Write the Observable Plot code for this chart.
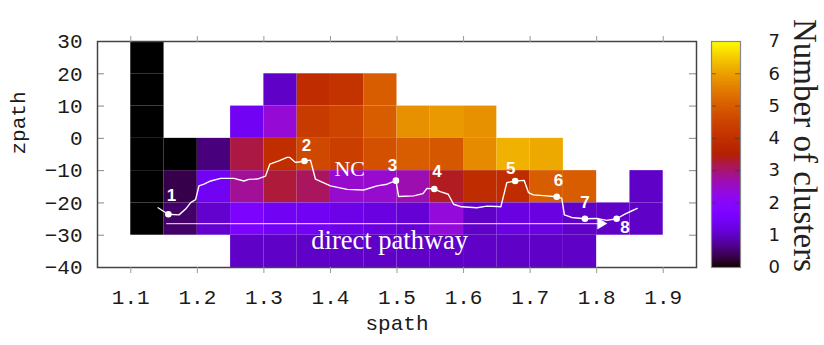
<!DOCTYPE html>
<html><head><meta charset="utf-8">
<script src="https://cdn.jsdelivr.net/npm/d3@7"></script>
<script src="https://cdn.jsdelivr.net/npm/@observablehq/plot@0.6"></script>
<style>
html,body{margin:0;padding:0;background:#fff;}
#chart{position:relative;width:824px;height:345px;overflow:hidden;}
#chart svg{position:absolute;top:0;max-width:none !important;}
</style></head><body><div id="chart"></div>
<script>
// ---- data ----
const spathBins = [1.10,1.15,1.20,1.25,1.30,1.35,1.40,1.45,1.50,1.55,1.60,1.65,1.70,1.75,1.80,1.85];
const zpathBins = [20,10,0,-10,-20,-30,-40]; // lower edge of each row
const row20 = [0,null,null,null,null,null,null,null,null,null,null,null,null,null,null,null];
const row10 = [0,null,null,null,1.0,3.9,4.1,5.0,null,null,null,null,null,null,null,null];
const row0  = [0,null,null,1.4,2.4,4.3,4.5,5.0,5.8,5.9,5.8,null,null,null,null,null];
const rowM10 = [0,0,0.57,3.2,3.95,4.6,4.4,4.75,5.0,4.9,5.7,6.2,6.1,null,null,null];
const rowM20 = [0,0.33,1.4,2.8,3.25,3.08,2.45,2.45,2.65,3.35,3.9,3.9,5.0,5.0,null,1.0];
const rowM30 = [0,0.47,1.05,1.65,1.4,1.4,1.27,1.2,1.1,2.35,1.0,1.2,1.2,1.0,1.0,1.0];
const rowM40 = [null,null,null,1.0,1.0,1.0,1.0,1.0,1.0,1.0,1.0,1.0,1.0,1.0,null,null];
const rows = [row20,row10,row0,rowM10,rowM20,rowM30,rowM40];

const pathSpath = [1.141,1.1485,1.1565,1.1724,1.1824,1.19,1.1974,1.2024,1.21,1.22,1.235,1.255,1.27,1.2774,1.29,1.3024,1.3089,1.3224,1.3349,1.339,1.347,1.35,1.361,1.37,1.3775,1.40,1.425,1.45,1.47,1.485,1.4984,1.5024,1.525,1.539,1.545,1.556,1.565,1.577,1.585,1.597,1.62,1.635,1.65,1.656,1.665,1.6775,1.691,1.6975,1.705,1.725,1.74,1.7475,1.7515,1.7624,1.7824,1.80,1.815,1.83,1.8424,1.8524,1.861];
const pathZpath = [-21.5,-22.5,-23.5,-23.7,-21.9,-19.9,-19.0,-14.7,-14.2,-13.2,-12.4,-12.4,-13.2,-12.7,-12.6,-11.7,-8.0,-7.0,-5.9,-5.9,-7.4,-7.4,-7.0,-6.75,-12.65,-14.7,-15.8,-16.0,-14.7,-14.2,-13.1,-18.0,-17.8,-17.1,-15.5,-15.7,-16.5,-17.3,-20.4,-21.2,-21.5,-21.0,-21.1,-21.2,-13.7,-13.2,-13.0,-16.8,-17.5,-17.8,-18.1,-18.5,-23.7,-24.5,-24.9,-24.8,-25.4,-24.9,-23.5,-22.5,-21.7];

const stageNames = ["1","2","3","4","5","6","7","8"];
const stageSpath = [1.1565,1.361,1.4984,1.556,1.6775,1.74,1.7824,1.83];
const stageZpath = [-23.5,-7.0,-13.1,-15.7,-13.2,-18.1,-24.9,-24.9];
const labelSpath = [1.161,1.364,1.4934,1.56,1.671,1.7425,1.7824,1.8424];
const labelZpath = [-17.8,-2.3,-8.3,-10.2,-9.3,-13.2,-19.9,-27.7];

const directSpath = [1.154,1.809];
const directZpath = [-26.4,-26.4];
const arrowSpath = [1.806];
const arrowZpath = [-26.4];
const directLabel = {text: "direct pathway", spath: 1.489, zpath: -34.4};
const ncLabel = {text: "NC", spath: 1.429, zpath: -9.6};

const xTicks = [1.1,1.2,1.3,1.4,1.5,1.6,1.7,1.8,1.9];
const yTicks = [-40,-30,-20,-10,0,10,20,30];
const yInnerTicks = [-30,-20,-10,0,10,20];
const cbTicks = [0,1,2,3,4,5,6,7];
const cbInnerTicks = [1,2,3,4,5,6];
const cbTitle = "Number of clusters";

// ---- build ----
const dx = spathBins[1]-spathBins[0];
const dz = zpathBins[0]-zpathBins[1];
const cells = [];
rows.forEach((r,i) => r.forEach((v,j) => { if (v != null) cells.push({x1: spathBins[j], x2: spathBins[j]+dx, y1: zpathBins[i], y2: zpathBins[i]+dz, v}); }));
const path = pathSpath.map((s,i) => ({s, z: pathZpath[i]}));
const stages = stageNames.map((n,i) => ({n, s: stageSpath[i], z: stageZpath[i], ls: labelSpath[i], lz: labelZpath[i]}));
const direct = directSpath.map((s,i) => ({s, z: directZpath[i]}));

const gnuplot = t => {
  const r = Math.sqrt(Math.max(0,t)), g = t*t*t, b = Math.max(0, Math.sin(2*Math.PI*t));
  return d3.rgb(255*r, 255*g, 255*b).formatHex();
};
const colorScale = {type: "linear", domain: [0,7], interpolate: gnuplot};

const W = 824, H = 345, mL = 97, mR = 128, mT = 41, mB = 78;
const frameW = W - mL - mR;
const mono = "Liberation Mono, DejaVu Sans Mono, monospace";
const serif = "Liberation Serif, DejaVu Serif, serif";
const sansB = "Liberation Sans, Arial, sans-serif";

const main = Plot.plot({
  width: W, height: H, marginLeft: mL, marginRight: mR, marginTop: mT, marginBottom: mB,
  x: {domain: [1.05,1.95]},
  y: {domain: [-40,30]},
  color: colorScale,
  style: {fontFamily: mono, fontSize: "21px", color: "#1a1a1a", background: "transparent"},
  marks: [
    Plot.rect(cells, {x1: "x1", x2: "x2", y1: "y1", y2: "y2", fill: "v"}),
    Plot.line(direct, {x: "s", y: "z", stroke: "white", strokeOpacity: 0.75, strokeWidth: 1.3}),
    Plot.dot(arrowSpath.map((s,i)=>({s, z: arrowZpath[i]})), {x: "s", y: "z", symbol: "triangle", rotate: 90, r: 4.3, fill: "white", stroke: "none"}),
    Plot.line(path, {x: "s", y: "z", stroke: "white", strokeWidth: 1.4, curve: "linear"}),
    Plot.dot(stages, {x: "s", y: "z", r: 3.3, fill: "white", stroke: "none"}),
    Plot.text(stages, {x: "ls", y: "lz", text: "n", fill: "white", fontFamily: sansB, fontWeight: "bold", fontSize: 17}),
    Plot.text([ncLabel], {x: "spath", y: "zpath", text: "text", fill: "white", fontFamily: serif, fontSize: 22}),
    Plot.text([directLabel], {x: "spath", y: "zpath", text: "text", fill: "white", fontFamily: serif, fontSize: 26.5, lineAnchor: "bottom"}),
    Plot.tickY(yInnerTicks, {y: d => d, insetRight: frameW - 7, stroke: "#888", strokeWidth: 1}),
    Plot.tickY(yInnerTicks, {y: d => d, insetLeft: frameW - 7, stroke: "#888", strokeWidth: 1}),
    Plot.frame({stroke: "#444", strokeWidth: 1.5}),
    Plot.axisX(xTicks, {anchor: "bottom", tickSize: 6, tickPadding: 16, stroke: "#999", tickFormat: d => d.toFixed(1), label: null}),
    Plot.axisX(xTicks, {anchor: "top", tickSize: 6, stroke: "#999", tickFormat: () => "", label: null}),
    Plot.axisY(yTicks, {anchor: "left", tickSize: 0, tickPadding: 15, label: null}),
    Plot.text(["spath"], {text: d => d, frameAnchor: "bottom", dy: 56, lineAnchor: "middle"}),
    Plot.text(["zpath"], {text: d => d, frameAnchor: "left", dx: -73, rotate: -90, lineAnchor: "bottom"})
  ]
});

const step = 0.025;
const grad = d3.range(0, 7, step);
const cb = Plot.plot({
  width: 124, height: H, marginLeft: 11, marginRight: 84, marginTop: mT, marginBottom: mB,
  y: {domain: [0,7], axis: null},
  color: colorScale,
  style: {fontFamily: "DejaVu Sans, sans-serif", fontSize: "18px", color: "#1a1a1a", background: "transparent"},
  marks: [
    Plot.rect(grad, {y1: d => d, y2: d => d + step, fill: d => d + step/2, shapeRendering: "crispEdges"}),
    Plot.tickY(cbInnerTicks, {y: d => d, insetRight: 24, stroke: "#333", strokeOpacity: 0.6}),
    Plot.tickY(cbInnerTicks, {y: d => d, insetLeft: 24, stroke: "#333", strokeOpacity: 0.6}),
    Plot.frame({stroke: "#888", strokeWidth: 1.2}),
    Plot.text(cbTicks, {y: d => d, text: d => String(d), frameAnchor: "right", dx: 28, textAnchor: "start", fill: "#1a1a1a"}),
    Plot.text([cbTitle], {text: d => d, frameAnchor: "right", dx: 53, dy: -9, rotate: 90, lineAnchor: "bottom", textAnchor: "middle", fontFamily: serif, fontSize: 33, fill: "#222"})
  ]
});
cb.style.left = "700px";
main.style.left = "0px";
const el = document.getElementById("chart");
el.appendChild(main);
el.appendChild(cb);
</script></body></html>
